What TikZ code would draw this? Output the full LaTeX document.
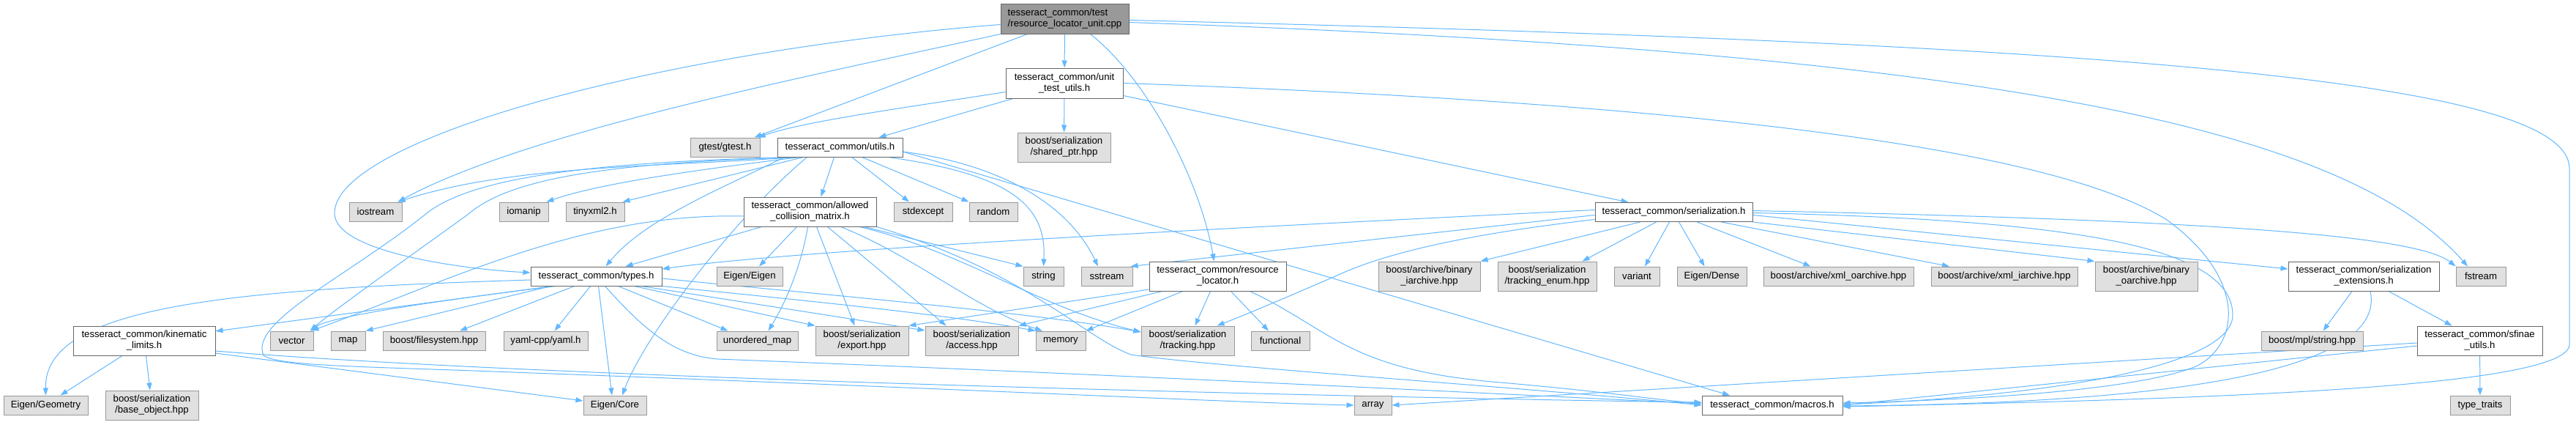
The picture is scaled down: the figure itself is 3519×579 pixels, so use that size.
\documentclass[tikz,border=0pt]{standalone}
\usepackage{fontspec}
\setmainfont{Liberation Sans}
\usetikzlibrary{arrows.meta}
\definecolor{edgec}{HTML}{63B8FF}
\definecolor{gfill}{HTML}{E0E0E0}
\definecolor{gdraw}{HTML}{999999}
\definecolor{wdraw}{HTML}{666666}
\definecolor{rfill}{HTML}{999999}
\pgfdeclarelayer{bg}
\pgfsetlayers{bg,main}
\tikzset{
  sz/.style 2 args={minimum width=#1pt,minimum height=#2pt},
  base/.style={rectangle,inner sep=0pt,line width=1pt,align=center,font=\fontsize{13.2}{15}\selectfont},
  gbox/.style={base,draw=gdraw,fill=gfill},
  wbox/.style={base,draw=wdraw,fill=white},
  rbox/.style={base,draw=wdraw,fill=rfill},
  dep/.style={draw=edgec,line width=1pt,-{Triangle[length=10pt,width=7pt]}}
}
\begin{document}
\begin{tikzpicture}[x=1pt,y=-1pt]
\useasboundingbox (0,0) rectangle (3519,579);
% row 0-1
\node[rbox,sz={175}{41},align=left] (root) at (1454.5,25.5) {tesseract\_common/test\\/resource\_locator\_unit.cpp};
\node[wbox,sz={160}{41}] (utu) at (1454,113.5) {tesseract\_common/unit\\\_test\_utils.h};
% row 2
\node[gbox,sz={127}{40}] (shp) at (1453.5,201) {boost/serialization\\/shared\_ptr.hpp};
\node[gbox,sz={95}{26}] (gtest) at (990.5,201) {gtest/gtest.h};
\node[wbox,sz={171}{26}] (utils) at (1147.5,201) {tesseract\_common/utils.h};
% row 3
\node[wbox,sz={215}{26}] (ser) at (2286.5,289.5) {tesseract\_common/serialization.h};
\node[gbox,sz={72}{26}] (iostream) at (513,289) {iostream};
\node[gbox,sz={67}{26}] (iomanip) at (715.5,289) {iomanip};
\node[gbox,sz={80}{26}] (tinyxml) at (813,289) {tinyxml2.h};
\node[wbox,sz={181}{40}] (acm) at (1106.5,289) {tesseract\_common/allowed\\\_collision\_matrix.h};
\node[gbox,sz={80}{26}] (stdexcept) at (1261,289) {stdexcept};
\node[gbox,sz={66}{26}] (random) at (1357,289) {random};
% row 4
\node[wbox,sz={179}{26}] (types) at (814.5,377) {tesseract\_common/types.h};
\node[gbox,sz={90}{26}] (eigeneigen) at (1024,377) {Eigen/Eigen};
\node[gbox,sz={55}{26}] (string) at (1425.5,377) {string};
\node[gbox,sz={70}{26}] (sstream) at (1512,377) {sstream};
\node[wbox,sz={187}{40}] (rl) at (1663.5,377) {tesseract\_common/resource\\\_locator.h};
\node[gbox,sz={139}{40}] (bini) at (1952.5,377) {boost/archive/binary\\\_iarchive.hpp};
\node[gbox,sz={135}{40}] (tenum) at (2113.5,377) {boost/serialization\\/tracking\_enum.hpp};
\node[gbox,sz={62}{26}] (variant) at (2236,377) {variant};
\node[gbox,sz={95}{26}] (dense) at (2338.5,377) {Eigen/Dense};
\node[gbox,sz={205}{26}] (xmlo) at (2511.5,377) {boost/archive/xml\_oarchive.hpp};
\node[gbox,sz={200}{26}] (xmli) at (2738,377) {boost/archive/xml\_iarchive.hpp};
\node[gbox,sz={140}{40}] (bino) at (2932,377) {boost/archive/binary\\\_oarchive.hpp};
\node[wbox,sz={206}{40}] (serext) at (3229,377) {tesseract\_common/serialization\\\_extensions.h};
\node[gbox,sz={68}{26}] (fstream) at (3389,377) {fstream};
% row 5
\node[wbox,sz={194}{40}] (kin) at (197,465) {tesseract\_common/kinematic\\\_limits.h};
\node[gbox,sz={59}{26}] (vector) at (398.5,465) {vector};
\node[gbox,sz={47}{26}] (map) at (475.5,465) {map};
\node[gbox,sz={140}{26}] (fs) at (593,465) {boost/filesystem.hpp};
\node[gbox,sz={115}{26}] (yaml) at (745.5,465) {yaml-cpp/yaml.h};
\node[gbox,sz={111}{26}] (umap) at (1034.5,465) {unordered\_map};
\node[gbox,sz={127}{40}] (export) at (1177.5,465) {boost/serialization\\/export.hpp};
\node[gbox,sz={127}{40}] (access) at (1327.5,465) {boost/serialization\\/access.hpp};
\node[gbox,sz={68}{26}] (memory) at (1449,465) {memory};
\node[gbox,sz={127}{40}] (tracking) at (1622.5,465) {boost/serialization\\/tracking.hpp};
\node[gbox,sz={80}{26}] (functional) at (1749,465) {functional};
\node[gbox,sz={139}{26}] (mpl) at (3158.5,465) {boost/mpl/string.hpp};
\node[wbox,sz={171}{40}] (sfinae) at (3387.5,465) {tesseract\_common/sfinae\\\_utils.h};
% row 6
\node[gbox,sz={115}{26}] (eigengeo) at (62.5,553) {Eigen/Geometry};
\node[gbox,sz={127}{40}] (baseobj) at (207.5,553) {boost/serialization\\/base\_object.hpp};
\node[gbox,sz={86}{26}] (eigencore) at (840,553) {Eigen/Core};
\node[gbox,sz={51}{26}] (array) at (1875.5,553) {array};
\node[wbox,sz={192}{26}] (macros) at (2421,553) {tesseract\_common/macros.h};
\node[gbox,sz={82}{26}] (tt) at (3388,553) {type\_traits};

\begin{pgfonlayer}{bg}
\fill[white] (0,0) rectangle (3519,579);
% root
\draw[dep] (root) -- (utu);
\draw[dep] ([xshift=-51pt]root.south) -- ([xshift=-8pt]gtest.north east);
\draw[dep] (root.south west) .. controls (1100,105) and (720,180) .. ([xshift=-6pt]iostream.north east);
\draw[dep] ([yshift=-8pt]root.west) .. controls (900,70) and (460,190) .. (457,290) .. controls (455,345) and (640,368) .. ([yshift=5pt]types.west);
\draw[dep] ([xshift=35pt]root.south) .. controls (1570,110) and (1640,250) .. ([xshift=-5pt]rl.north);
\draw[dep] ([yshift=-5pt]root.east) .. controls (2700,70) and (3200,170) .. ([xshift=-18pt]fstream.north);
\draw[dep] ([yshift=-2pt]root.east) .. controls (2900,60) and (3510,110) .. (3510,230) -- (3510,470) .. controls (3510,530) and (3000,545) .. ([yshift=-2pt]macros.east);
% unit_test_utils
\draw[dep] ([yshift=-12pt]utu.west) .. controls (1250,145) and (1100,165) .. ([xshift=-3pt]gtest.north east);
\draw[dep] ([xshift=-70pt]utu.south) -- ([xshift=53pt]utils.north);
\draw[dep] (utu) -- (shp);
\draw[dep] ([yshift=-17pt]utu.east) -- ([xshift=-62pt]ser.north);
\draw[dep] (utu.east) .. controls (2300,140) and (2800,200) .. (2960,300) .. controls (3070,380) and (3060,470) .. (3000,500) .. controls (2900,540) and (2600,548) .. ([yshift=3pt]macros.east);
% utils
\draw[dep] ([xshift=-60pt]utils.south) .. controls (900,228) and (700,225) .. ([xshift=-6pt]iostream.north east);
\draw[dep] ([xshift=-55pt]utils.south) .. controls (950,232) and (820,250) .. ([xshift=-3pt]iomanip.north east);
\draw[dep] ([xshift=-50pt]utils.south) -- ([xshift=-3pt]tinyxml.north east);
\draw[dep] ([xshift=-58pt]utils.south) .. controls (850,222) and (700,240) .. (640,292) .. controls (560,350) and (460,420) .. ([xshift=-5pt]vector.north east);
\draw[dep] ([xshift=-62pt]utils.south) .. controls (760,222) and (630,250) .. (578,295) .. controls (470,380) and (340,440) .. (360,485) .. controls (380,500) and (500,500) .. (700,508) .. controls (1300,530) and (1700,550) .. (array.west);
\draw[dep] ([xshift=-76pt]utils.south) .. controls (980,260) and (880,300) .. ([xshift=13pt]types.north);
\draw[dep] ([xshift=-45pt]utils.south) .. controls (1000,300) and (880,460) .. ([xshift=10pt]eigencore.north);
\draw[dep] ([xshift=-8pt]utils.south) -- ([xshift=15pt]acm.north);
\draw[dep] ([xshift=16pt]utils.south) -- ([xshift=-19pt]stdexcept.north);
\draw[dep] ([xshift=30pt]utils.south) -- (random.north west);
\draw[dep] ([xshift=66pt]utils.south) .. controls (1380,238) and (1430,280) .. (string.north);
\draw[dep] ([yshift=-6pt]utils.east) .. controls (1370,225) and (1460,280) .. ([xshift=-12pt]sstream.north);
\draw[dep] ([yshift=-6pt]utils.east) -- ([xshift=-58pt]macros.north);
% allowed collision matrix
\draw[dep] ([xshift=-66pt]acm.south) -- ([xshift=40pt]types.north);
\draw[dep] ([xshift=-18pt]acm.south) -- ([xshift=13pt]eigeneigen.north);
\draw[dep] ([xshift=-3pt]acm.south) .. controls (1095,360) and (1075,410) .. ([xshift=15pt]umap.north);
\draw[dep] ([xshift=9pt]acm.south) -- ([xshift=-10pt]export.north);
\draw[dep] ([xshift=24pt]acm.south) -- ([xshift=-35pt]access.north);
\draw[dep] ([xshift=42pt]acm.south) .. controls (1250,350) and (1330,420) .. ([xshift=-25pt]memory.north);
\draw[dep] ([xshift=68pt]acm.south) .. controls (1320,345) and (1420,420) .. ([yshift=12pt]tracking.west);
\draw[dep] ([xshift=74pt]acm.south) -- (string.north west);
\draw[dep] (acm.south east) .. controls (1400,370) and (1480,460) .. (1545,484) .. controls (1650,500) and (2100,530) .. (macros.west);
\draw[dep] ([yshift=-6pt]acm.west) .. controls (800,290) and (620,380) .. ([xshift=-3pt]vector.north east);
% types
\draw[dep] ([yshift=-5pt]types.west) .. controls (300,395) and (60,420) .. (eigengeo.north);
\draw[dep] ([xshift=-60pt]types.south) -- ([yshift=13pt]kin.east);
\draw[dep] ([xshift=-55pt]types.south) .. controls (600,410) and (450,432) .. ([xshift=-4pt]vector.north east);
\draw[dep] ([xshift=-62pt]types.south) -- (map.north east);
\draw[dep] ([xshift=-30pt]types.south) -- ([xshift=35pt]fs.north);
\draw[dep] ([xshift=-8pt]types.south) -- ([xshift=12pt]yaml.north);
\draw[dep] ([xshift=3pt]types.south) -- ([xshift=-4pt]eigencore.north);
\draw[dep] ([xshift=12pt]types.south) .. controls (880,450) and (920,485) .. (980,490) .. controls (1500,510) and (2100,540) .. ([yshift=2pt]macros.west);
\draw[dep] ([xshift=30pt]types.south) -- ([xshift=-40pt]umap.north);
\draw[dep] ([xshift=52pt]types.south) -- (export.north west);
\draw[dep] ([xshift=62pt]types.south) -- ([yshift=14pt]access.west);
\draw[dep] (types.south east) .. controls (1100,410) and (1300,430) .. (memory.north west);
\draw[dep] ([yshift=-3pt]types.east) .. controls (1100,400) and (1400,425) .. ([yshift=12pt]tracking.west);
% resource locator
\draw[dep] ([yshift=-18pt]rl.west) -- (export.north east);
\draw[dep] ([xshift=-76pt]rl.south) -- (access.north east);
\draw[dep] ([xshift=-48pt]rl.south) -- (memory.north east);
\draw[dep] ([xshift=-10pt]rl.south) -- ([xshift=10pt]tracking.north);
\draw[dep] ([xshift=18pt]rl.south) -- ([xshift=-16pt]functional.north);
\draw[dep] ([xshift=44pt]rl.south) .. controls (1820,450) and (1840,505) .. (2050,522) .. controls (2200,535) and (2280,548) .. ([yshift=3pt]macros.west);
% serialization
\draw[dep] ([yshift=3pt]ser.west) .. controls (1700,310) and (1100,340) .. ([yshift=10pt]types.east);
\draw[dep] ([yshift=-4pt]ser.west) -- ([xshift=-3pt]sstream.north east);
\draw[dep] ([yshift=-10pt]ser.west) .. controls (2000,320) and (1900,345) .. (1840,370) .. controls (1760,405) and (1700,430) .. ([xshift=40pt]tracking.north);
\draw[dep] ([xshift=-46pt]ser.south) -- (bini.north east);
\draw[dep] ([xshift=-24pt]ser.south) -- ([xshift=48pt]tenum.north);
\draw[dep] ([xshift=-6pt]ser.south) -- ([xshift=11pt]variant.north);
\draw[dep] ([xshift=7pt]ser.south) -- ([xshift=-10pt]dense.north);
\draw[dep] ([xshift=32pt]ser.south) -- ([xshift=-38pt]xmlo.north);
\draw[dep] ([xshift=65pt]ser.south) -- ([xshift=-75pt]xmli.north);
\draw[dep] (ser.south east) -- (bino.north west);
\draw[dep] ([yshift=-4pt]ser.east) -- ([yshift=10pt]serext.west);
\draw[dep] ([yshift=2pt]ser.east) .. controls (3000,300) and (3300,320) .. (fstream.north west);
\draw[dep] ([yshift=-1pt]ser.east) .. controls (2850,300) and (3050,340) .. (3050,430) .. controls (3050,500) and (2800,540) .. ([yshift=1pt]macros.east);
% serialization extensions
\draw[dep] ([xshift=-16pt]serext.south) -- ([xshift=15pt]mpl.north);
\draw[dep] ([xshift=34pt]serext.south) -- ([xshift=-38pt]sfinae.north);
\draw[dep] ([xshift=9pt]serext.south) .. controls (3260,500) and (3000,550) .. ([yshift=-1pt]macros.east);
% sfinae
\draw[dep] (sfinae) -- (tt);
\draw[dep] ([yshift=-3pt]sfinae.west) -- (array.east);
\draw[dep] ([yshift=-7pt]sfinae.west) -- (macros.east);
% kinematic limits
\draw[dep] ([xshift=-30pt]kin.south) -- ([xshift=20pt]eigengeo.north);
\draw[dep] (kin) -- (baseobj);
\draw[dep] ([yshift=-17pt]kin.east) -- ([yshift=6pt]eigencore.west);
\draw[dep] ([yshift=-14pt]kin.east) .. controls (800,520) and (2000,545) .. ([yshift=4pt]macros.west);
\end{pgfonlayer}
\end{tikzpicture}
\end{document}
